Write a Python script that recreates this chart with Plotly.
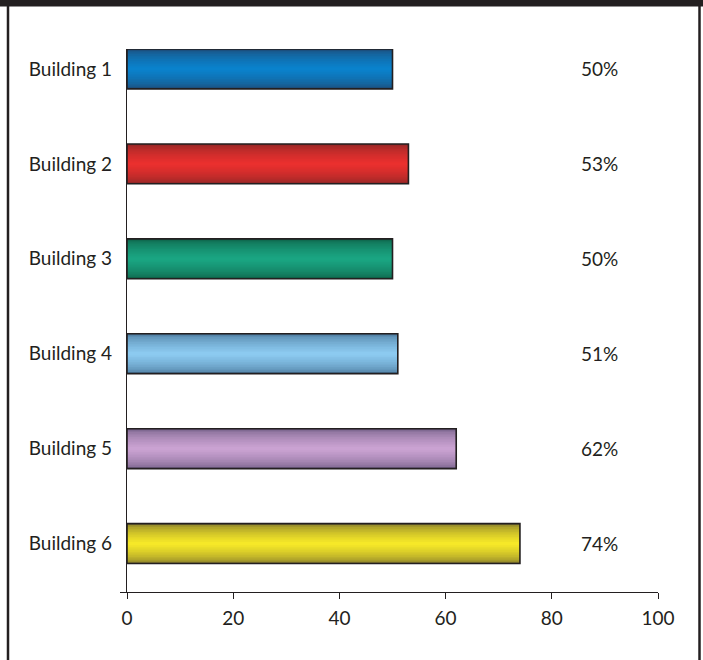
import plotly.graph_objects as go

buildings = ["Building 1", "Building 2", "Building 3", "Building 4", "Building 5", "Building 6"]
values = [50, 53, 50, 51, 62, 74]
labels = ["50%", "53%", "50%", "51%", "62%", "74%"]
center_colors = ["#0a82cc", "#ea302e", "#1aa582", "#8ccaf0", "#caa2d2", "#f6e828"]
edge_colors = ["#1d4c78", "#8e2626", "#0e6248", "#4a789c", "#746088", "#847a2c"]
x_ticks = [0, 20, 40, 60, 80, 100]

FONT = "Lato, 'Open Sans', sans-serif"
TXT = "#231f20"
W = 0.42
N = 12

def hex2rgb(h):
    h = h.lstrip("#")
    return tuple(int(h[i:i + 2], 16) for i in (0, 2, 4))

def mix(a, b, t):
    ca, cb = hex2rgb(a), hex2rgb(b)
    return "rgb(%d,%d,%d)" % tuple(round(ca[i] + (cb[i] - ca[i]) * t) for i in range(3))

pos = list(range(len(buildings)))
fig = go.Figure()
for k in range(N):
    t = (k / (N - 1)) ** 0.55
    fig.add_trace(go.Bar(
        x=values, y=pos, orientation="h",
        width=[W * (1 - k / N)] * len(values),
        marker=dict(color=[mix(e, c, t) for e, c in zip(edge_colors, center_colors)],
                    line=dict(width=0)),
        showlegend=False, hoverinfo="skip"))
# outline
fig.add_trace(go.Bar(
    x=values, y=pos, orientation="h", width=[W] * len(values),
    marker=dict(color="rgba(0,0,0,0)", line=dict(color=TXT, width=1.6)),
    showlegend=False, hoverinfo="x+y"))

for p, lab in zip(pos, labels):
    fig.add_annotation(x=89, y=p, text=lab, showarrow=False, xanchor="center",
                       yanchor="middle", font=dict(family=FONT, size=19, color=TXT))

L, R, T, B = 127, 45, 49, 68
PW, PH = 703 - L - R, 660 - T - B
def px_x(v):
    return (v - L) / PW
def px_y(v):
    return (660 - B - v) / PH

shape_line = dict(color="#231f20", width=2.5)
fig.add_shape(type="rect", xref="paper", yref="paper", x0=px_x(-5), x1=px_x(710),
              y0=px_y(6.5), y1=px_y(-5), fillcolor="#231f20", line=dict(width=0))
fig.add_shape(type="line", xref="paper", yref="paper", x0=px_x(8), x1=px_x(8),
              y0=px_y(3), y1=px_y(670), line=shape_line)
fig.add_shape(type="line", xref="paper", yref="paper", x0=px_x(699.5), x1=px_x(699.5),
              y0=px_y(3), y1=px_y(670), line=shape_line)

fig.update_layout(
    width=703, height=660,
    margin=dict(l=L, r=R, t=T, b=B, pad=0),
    barmode="overlay",
    paper_bgcolor="white", plot_bgcolor="white",
    font=dict(family=FONT, size=19, color=TXT),
    xaxis=dict(range=[0, 100], tickvals=x_ticks, ticks="outside", ticklen=6,
               tickcolor=TXT, tickwidth=1.3, showline=True, linecolor=TXT, linewidth=1.3,
               showgrid=False, zeroline=False, fixedrange=True, ticklabelstandoff=3,
               tickfont=dict(family=FONT, size=19, color=TXT)),
    yaxis=dict(range=[5.51, -0.21], tickvals=pos, ticktext=buildings, ticks="",
               showline=True, linecolor=TXT, linewidth=1.3, showgrid=False,
               zeroline=False, ticklabelstandoff=10, fixedrange=True,
               minor=dict(tickvals=[5.51], ticks="outside", ticklen=6,
                          tickcolor=TXT, tickwidth=1.3, showgrid=False),
               tickfont=dict(family=FONT, size=19, color=TXT)),
)

fig.write_html("out.html", config={"displayModeBar": False},
               post_script="document.body.style.margin='0';document.body.style.overflow='hidden';")
